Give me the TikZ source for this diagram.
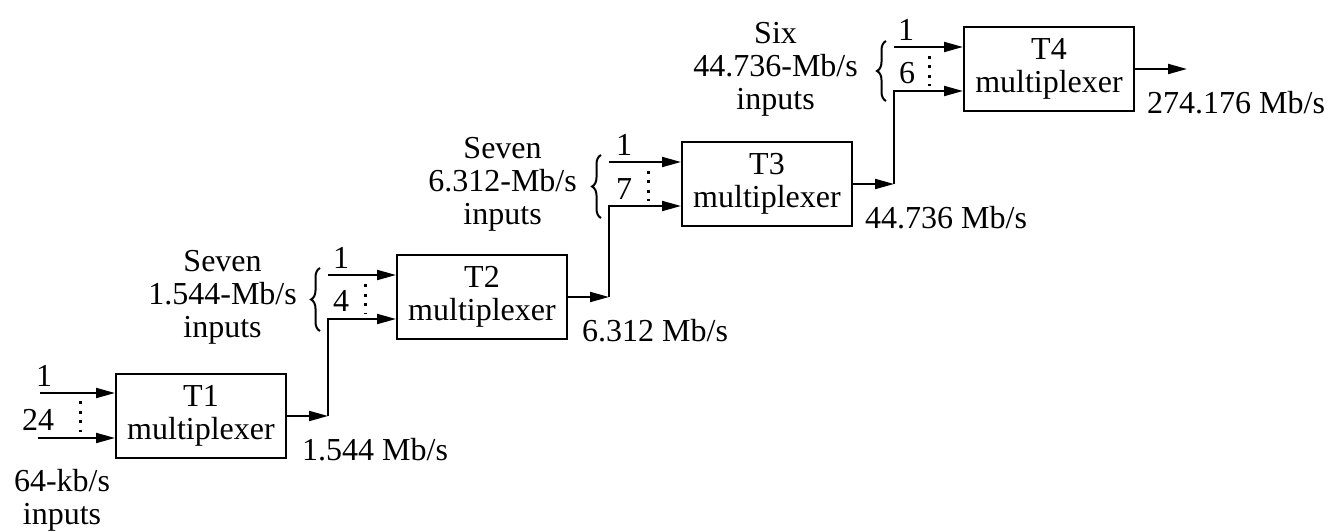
\documentclass[tikz,border=0pt]{standalone}
\usepackage{fontspec}
\setmainfont{Liberation Serif}
\usetikzlibrary{arrows.meta,decorations.pathreplacing,calc}
\begin{document}
\begin{tikzpicture}[x=1pt,y=-1pt,
  font=\fontsize{32}{33}\selectfont,
  mux/.style={draw,line width=2pt,minimum width=170pt,minimum height=84pt,inner sep=0pt,align=center},
  sig/.style={line width=2pt,-{Triangle[length=19pt,width=10pt]}},
  dotsline/.style={line width=3pt,dash pattern=on 3pt off 6.5pt},
  lbl/.style={inner sep=0pt,align=center},
  brc/.style={decorate,decoration={brace,amplitude=9pt},line width=2pt}]
\useasboundingbox (0,0) rectangle (1334,532);

% multiplexer boxes
\node[mux] (T1) at (201,416) {T1\\multiplexer};
\node[mux] (T2) at (482,297) {T2\\multiplexer};
\node[mux] (T3) at (767,184) {T3\\multiplexer};
\node[mux] (T4) at (1049,69) {T4\\multiplexer};

% ---- stage 1 inputs
\coordinate (s1a) at (40,393);
\coordinate (s1b) at (38,438);
\draw[sig] (s1a) -- (s1a -| T1.west);
\draw[sig] (s1b) -- (s1b -| T1.west);
\draw[dotsline] (80,401) -- (80,432);
\node[lbl] (n1a) at (44,376) {1};
\node[lbl] (n1b) at (38,420) {24};
\node[lbl,anchor=north] (g1) at (62,469) {64-kb/s\\inputs};

% ---- stage 1 output -> stage 2
\coordinate (c1) at ($(T1.east)+(41,0)$);
\draw[sig] (T1.east) -- (c1);
\node[lbl,anchor=west] (o1) at ($(T1.south east)+(15,-9)$) {1.544 Mb/s};
\coordinate (a2) at ($(T2.west)+(0,-22)$);
\coordinate (b2) at ($(T2.west)+(0,22)$);
\draw[sig] (c1) |- (b2);
\draw[sig] (c1 |- a2) -- (a2);
\draw[dotsline] ($(T2.west)+(-31,-13)$) -- ($(T2.west)+(-31,17)$);
\node[lbl] (n2a) at ($(T2.west)+(-55,-39)$) {1};
\node[lbl] (n2b) at ($(T2.west)+(-55,4)$) {4};
\draw[brc] ($(b2 -| c1)+(-8,12)$) -- ($(a2 -| c1)+(-8,-7)$);
\node[lbl,anchor=east] (g2) at ($(c1 |- T2.center)+(-31,0)$) {Seven\\1.544-Mb/s\\inputs};

% ---- stage 2 output -> stage 3
\coordinate (c2) at ($(T2.east)+(41,0)$);
\draw[sig] (T2.east) -- (c2);
\node[lbl,anchor=west] (o2) at ($(T2.south east)+(14,-9)$) {6.312 Mb/s};
\coordinate (a3) at ($(T3.west)+(0,-22)$);
\coordinate (b3) at ($(T3.west)+(0,22)$);
\draw[sig] (c2) |- (b3);
\draw[sig] (c2 |- a3) -- (a3);
\draw[dotsline] ($(T3.west)+(-33,-13)$) -- ($(T3.west)+(-33,17)$);
\node[lbl] (n3a) at ($(T3.west)+(-57,-39)$) {1};
\node[lbl] (n3b) at ($(T3.west)+(-57,5)$) {7};
\draw[brc] ($(b3 -| c2)+(-8,12)$) -- ($(a3 -| c2)+(-8,-7)$);
\node[lbl,anchor=east] (g3) at ($(c2 |- T3.center)+(-32,0)$) {Seven\\6.312-Mb/s\\inputs};

% ---- stage 3 output -> stage 4
\coordinate (c3) at ($(T3.east)+(41,0)$);
\draw[sig] (T3.east) -- (c3);
\node[lbl,anchor=west] (o3) at ($(T3.south east)+(12,-9)$) {44.736 Mb/s};
\coordinate (a4) at ($(T4.west)+(0,-22)$);
\coordinate (b4) at ($(T4.west)+(0,22)$);
\draw[sig] (c3) |- (b4);
\draw[sig] (c3 |- a4) -- (a4);
\draw[dotsline] ($(T4.west)+(-34,-13)$) -- ($(T4.west)+(-34,17)$);
\node[lbl] (n4a) at ($(T4.west)+(-57,-39)$) {1};
\node[lbl] (n4b) at ($(T4.west)+(-56,4)$) {6};
\draw[brc] ($(b4 -| c3)+(-8,10)$) -- ($(a4 -| c3)+(-8,-6)$);
\node[lbl,anchor=east] (g4) at ($(c3 |- T4.center)+(-36,0)$) {Six\\44.736-Mb/s\\inputs};

% ---- stage 4 output
\coordinate (c4) at ($(T4.east)+(52,0)$);
\draw[sig] (T4.east) -- (c4);
\node[lbl,anchor=west] (o4) at ($(T4.south east)+(12,-9)$) {274.176 Mb/s};
\end{tikzpicture}
\end{document}
